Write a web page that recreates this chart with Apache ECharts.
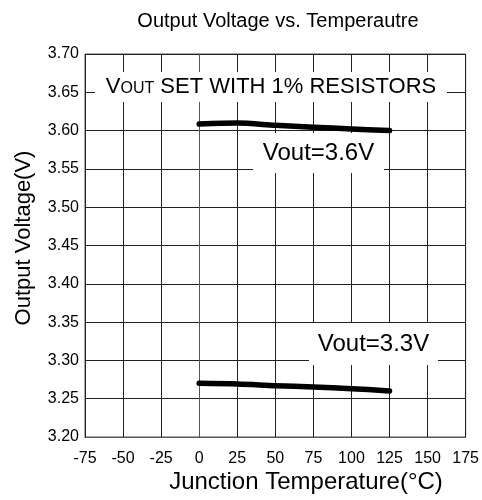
<!DOCTYPE html>
<html>
<head>
<meta charset="utf-8">
<script src="https://cdn.jsdelivr.net/npm/echarts@6/dist/echarts.min.js"></script>
<style>
    html, body { margin: 0; padding: 0; background: #fff; }
    #chart { width: 482px; height: 500px; }
</style>
</head>
<body>
<div id="chart"></div>
<script>
// data
var temps = [0, 25, 50, 75, 100, 125];
var vout36 = [3.6085, 3.6098, 3.6070, 3.6045, 3.6022, 3.6000];
var vout33 = [3.2701, 3.2692, 3.2670, 3.2653, 3.2631, 3.2601];
var xTicks = [-75, 175, 25];      // min, max, step
var yTicks = [3.20, 3.70, 0.05];  // min, max, step

var FONT = '"Liberation Sans", Arial, sans-serif';

function pairs(xs, ys) {
    return xs.map(function (x, i) { return [x, ys[i]]; });
}

// white box with a label on top (hides grid lines like the original)
function labelBox(x, y, w, h, text, size, rich) {
    return {
        type: 'group',
        children: [{
            type: 'rect',
            shape: { x: x, y: y, width: w, height: h },
            style: { fill: '#fff' },
            z: 1
        }, {
            type: 'text',
            x: x + w / 2,
            y: y + h / 2,
            style: {
                text: text,
                font: size + 'px ' + FONT,
                fill: '#000',
                align: 'center',
                verticalAlign: 'middle',
                rich: rich
            },
            z: 1
        }]
    };
}

var chart = echarts.init(document.getElementById('chart'));

var lineStyle = { color: '#000', width: 5.5, cap: 'round', join: 'round' };

var option = {
    backgroundColor: '#fff',
    animation: false,
    title: {
        text: 'Output Voltage vs. Temperautre',
        left: 273,
        top: 6,
        textAlign: 'center',
        textStyle: { fontFamily: FONT, fontSize: 20, fontWeight: 'normal', color: '#000' }
    },
    grid: {
        left: 85, right: 13, top: 54, bottom: 63,
        show: true, borderColor: '#555', borderWidth: 1
    },
    xAxis: {
        type: 'value',
        min: xTicks[0], max: xTicks[1], interval: xTicks[2],
        axisLine: { show: true, onZero: false, lineStyle: { color: '#555' } },
        axisTick: { show: false },
        axisLabel: { margin: 14, fontFamily: FONT, fontSize: 16, color: '#000' },
        splitLine: { show: true, lineStyle: { color: '#222', width: 1 } }
    },
    yAxis: {
        type: 'value',
        min: yTicks[0], max: yTicks[1], interval: yTicks[2],
        axisLine: { show: true, lineStyle: { color: '#555' } },
        axisTick: { show: false },
        axisLabel: {
            margin: 6, fontFamily: FONT, fontSize: 16, color: '#000',
            formatter: function (v) { return v.toFixed(2); }
        },
        splitLine: { show: true, lineStyle: { color: '#222', width: 1 } }
    },
    graphic: [
        labelBox(95, 72, 352, 30, '{a|V}{b|OUT} SET WITH 1% RESISTORS', 22, {
            a: { fontSize: 22, fontFamily: FONT, verticalAlign: 'bottom' },
            b: { fontSize: 16, fontFamily: FONT, verticalAlign: 'bottom', padding: [0, 0, 1, 0] }
        }),
        labelBox(253, 133, 131, 40, 'Vout=3.6V', 24),
        labelBox(309, 323, 129, 42, 'Vout=3.3V', 24),
        {
            type: 'text',
            x: 306, y: 482,
            style: {
                text: 'Junction Temperature(°C)',
                font: '24px ' + FONT, fill: '#000',
                align: 'center', verticalAlign: 'middle'
            }
        },
        {
            type: 'text',
            x: 24, y: 238,
            rotation: Math.PI / 2,
            style: {
                text: 'Output Voltage(V)',
                font: '22px ' + FONT, fill: '#000',
                align: 'center', verticalAlign: 'middle'
            }
        }
    ],
    series: [{
        name: 'Vout=3.6V',
        type: 'line',
        data: pairs(temps, vout36),
        smooth: 0.3,
        showSymbol: false,
        lineStyle: lineStyle,
        z: 3
    }, {
        name: 'Vout=3.3V',
        type: 'line',
        data: pairs(temps, vout33),
        smooth: 0.3,
        showSymbol: false,
        lineStyle: lineStyle,
        z: 3
    }]
};

chart.setOption(option);
</script>
</body>
</html>
